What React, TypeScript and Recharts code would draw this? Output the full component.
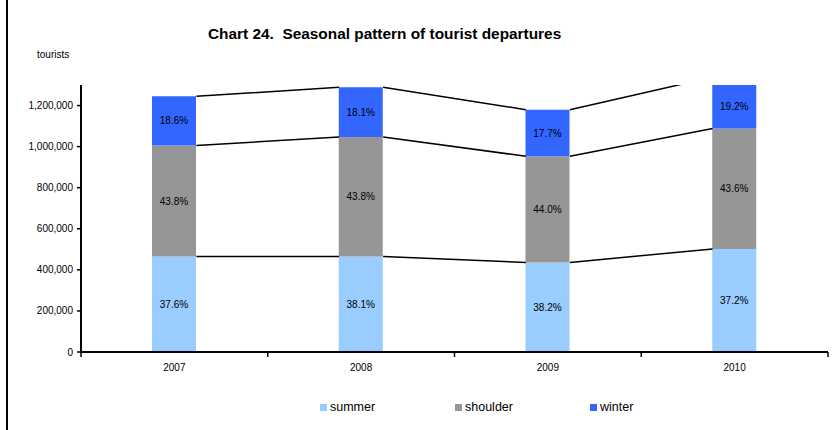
import React from "react";
import {
  Bar,
  ComposedChart,
  LabelList,
  Legend,
  Line,
  XAxis,
  YAxis,
} from "recharts";

const YEARS = ["2007", "2008", "2009", "2010"];
const SERIES = ["summer", "shoulder", "winter"];
const SUMMER = [465000, 465000, 436000, 502000];
const SHOULDER = [540000, 582000, 517000, 586000];
const WINTER = [240000, 242000, 227000, 250000];
const SUMMER_PCT = ["37.6%", "38.1%", "38.2%", "37.2%"];
const SHOULDER_PCT = ["43.8%", "43.8%", "44.0%", "43.6%"];
const WINTER_PCT = ["18.6%", "18.1%", "17.7%", "19.2%"];
const Y_TICKS = [0, 200000, 400000, 600000, 800000, 1000000, 1200000];

const W = 832;
const H = 430;
const Y_AXIS_W = 81;
const RIGHT = 4;
const BAR = 44;
const FONT = '"Liberation Sans", Arial, Helvetica, sans-serif';

const COLORS: Record<string, string> = { summer: "#99CCFF", shoulder: "#969696", winter: "#3366FF" };

const rows = YEARS.map((year, i) => ({
  year,
  summer: SUMMER[i],
  shoulder: SHOULDER[i],
  winter: WINTER[i],
  summerPct: SUMMER_PCT[i],
  shoulderPct: SHOULDER_PCT[i],
  winterPct: WINTER_PCT[i],
}));

// series lines join the right edge of one bar to the left edge of the next
const step = (W - Y_AXIS_W - RIGHT) / YEARS.length;
const hw = BAR / 2 / step;

function seriesLine(vals: number[]) {
  const pts: { x: number; y: number | null }[] = [];
  for (let i = 0; i < vals.length - 1; i++) {
    pts.push({ x: i + 0.5 + hw, y: vals[i] });
    pts.push({ x: i + 1.5 - hw, y: vals[i + 1] });
    if (i < vals.length - 2) pts.push({ x: i + 1.5, y: null });
  }
  return pts;
}

const lowLine = seriesLine(SUMMER);
const midLine = seriesLine(SUMMER.map((v, i) => v + SHOULDER[i]));
const topLine = seriesLine(SUMMER.map((v, i) => v + SHOULDER[i] + WINTER[i]));

const X_TICKS = [0, 0.5, 1, 1.5, 2, 2.5, 3, 3.5, 4];

function XTick(props: any) {
  const { x, y, payload } = props;
  const v = payload.value as number;
  if (Number.isInteger(v)) {
    return <line x1={x} x2={x} y1={y} y2={y + 5} stroke="#000" strokeWidth={1.5} />;
  }
  return (
    <text x={x} y={y + 19} textAnchor="middle" fontSize={10} fill="#000">
      {YEARS[Math.floor(v)]}
    </text>
  );
}

function LegendBox() {
  return (
    <div style={{ display: "flex", paddingLeft: 320, fontSize: 12.5, lineHeight: "16px" }}>
      {SERIES.map((name) => (
        <div key={name} style={{ width: 135, display: "flex", alignItems: "center" }}>
          <span
            style={{ width: 7, height: 7, background: COLORS[name], marginRight: 3, display: "inline-block" }}
          />
          <span>{name}</span>
        </div>
      ))}
    </div>
  );
}

export default function App() {
  return (
    <div
      style={{
        position: "absolute",
        left: 0,
        top: 0,
        width: W,
        height: H,
        background: "#fff",
        fontFamily: FONT,
        color: "#000",
      }}
    >
      <div style={{ position: "absolute", left: 6, top: 0, width: 2, height: H, background: "#000" }} />
      <div
        style={{ position: "absolute", left: 208, top: 25, fontSize: 15.4, fontWeight: "bold", whiteSpace: "pre" }}
      >
        {"Chart 24.  Seasonal pattern of tourist departures"}
      </div>
      <div style={{ position: "absolute", left: 37, top: 49, fontSize: 10 }}>tourists</div>
      <ComposedChart
        width={W}
        height={H}
        data={rows}
        margin={{ top: 85, right: RIGHT, left: 0, bottom: 15 }}
      >
        <XAxis xAxisId="cat" dataKey="year" hide height={0} />
        <XAxis
          xAxisId="num"
          type="number"
          dataKey="x"
          domain={[0, 4]}
          ticks={X_TICKS}
          interval={0}
          height={47}
          tickSize={0}
          tickMargin={0}
          tickLine={false}
          tick={<XTick />}
          axisLine={{ stroke: "#000", strokeWidth: 2 }}
        />
        <YAxis
          width={Y_AXIS_W}
          domain={[0, 1300000]}
          allowDataOverflow
          ticks={Y_TICKS}
          interval={0}
          tickSize={4}
          tickMargin={4}
          tick={{ fontSize: 10, fill: "#000" }}
          tickLine={{ stroke: "#000", strokeWidth: 1.5 }}
          axisLine={{ stroke: "#000", strokeWidth: 2 }}
          tickFormatter={(v: number) => v.toLocaleString("en-US")}
        />
        <Legend verticalAlign="bottom" content={<LegendBox />} wrapperStyle={{ left: 0, width: W }} />
        <Bar xAxisId="cat" dataKey="summer" name="summer" stackId="s" fill={COLORS.summer} barSize={BAR} isAnimationActive={false}>
          <LabelList dataKey="summerPct" position="center" fontSize={10} fill="#000" />
        </Bar>
        <Bar xAxisId="cat" dataKey="shoulder" name="shoulder" stackId="s" fill={COLORS.shoulder} barSize={BAR} isAnimationActive={false}>
          <LabelList dataKey="shoulderPct" position="center" fontSize={10} fill="#000" />
        </Bar>
        <Bar xAxisId="cat" dataKey="winter" name="winter" stackId="s" fill={COLORS.winter} barSize={BAR} isAnimationActive={false}>
          <LabelList dataKey="winterPct" position="center" fontSize={10} fill="#000" />
        </Bar>
        {[lowLine, midLine, topLine].map((d, k) => (
          <Line
            key={k}
            xAxisId="num"
            data={d}
            dataKey="y"
            stroke="#000"
            strokeWidth={1.5}
            dot={false}
            activeDot={false}
            legendType="none"
            connectNulls={false}
            isAnimationActive={false}
          />
        ))}
      </ComposedChart>
    </div>
  );
}
